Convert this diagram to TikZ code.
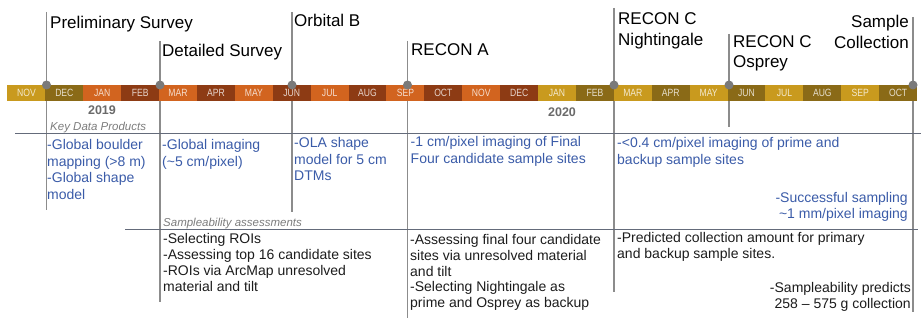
\documentclass[tikz,border=0pt]{standalone}
\usepackage{fontspec}
\setmainfont{Liberation Sans}
\newfontfamily\monthfont[FakeStretch=0.82]{Liberation Sans}

% month band colours
\definecolor{mgold}{HTML}{C99A1E}
\definecolor{molive}{HTML}{8A6A17}
\definecolor{morange}{HTML}{D2641F}
\definecolor{mbrown}{HTML}{8D3B14}
% other colours
\definecolor{guidegray}{HTML}{8C8C8C}
\definecolor{rulegray}{HTML}{646B7A}
\definecolor{dotgray}{HTML}{7A7A7A}
\definecolor{yeargray}{HTML}{6A6A6A}
\definecolor{labelgray}{HTML}{7C7C7C}
\definecolor{keyblue}{HTML}{3A5BA8}
\definecolor{bodyblack}{HTML}{1C1C1C}

% stacked lines whose baseline is the first line's baseline
\newcommand\leftlines[2]{\vtop{\baselineskip=#1\lineskiplimit=-30pt\halign{##\hfil\cr#2\crcr}}}
\newcommand\rightlines[2]{\vtop{\baselineskip=#1\lineskiplimit=-30pt\halign{\hfil##\cr#2\crcr}}}

\begin{document}
\begin{tikzpicture}[x=1pt,y=-1pt,
  guide/.style={draw=guidegray, line width=1.1pt},
  rule/.style={draw=rulegray, line width=1pt},
  monthcell/.style={rectangle, inner sep=0, minimum width=38pt, minimum height=16pt,
    font=\monthfont\fontsize{10.5}{10.5}\selectfont, text=white, text opacity=0.78},
  milestone/.style={font=\fontsize{17}{20}\selectfont, inner sep=0, text=black},
  yearlabel/.style={font=\bfseries\fontsize{12.5}{14}\selectfont, text=yeargray, inner sep=0, anchor=base},
  rowlabel/.style={font=\itshape\fontsize{11.5}{13}\selectfont, text=labelgray, inner sep=0, anchor=base west},
  keytext/.style={font=\fontsize{14}{16.5}\selectfont, text=keyblue, inner sep=0},
  sampletext/.style={font=\fontsize{14}{16}\selectfont, text=bodyblack, inner sep=0},
  dot/.style={circle, fill=dotgray, inner sep=0, minimum size=9pt}
]
\useasboundingbox (0,0) rectangle (921,320);

% milestone guide lines (drawn below the month band)
\foreach \n/\x/\t/\b in {1/46.5/12/210, 2/160/41/302, 3/292/12/212, 4/407.5/41/318,
                          5/614/8/292, 6/729/34/127, 7/913/17/312} {
  \coordinate (gt\n) at (\x,\t);
  \coordinate (gb\n) at (\x,\b);
  \coordinate (ms\n) at (\x,85);
  \draw[guide] (gt\n) -- (gb\n);
}

% month band, Nov 2018 to Oct 2020
\foreach \m/\c [count=\i from 0] in {NOV/mgold, DEC/molive, JAN/morange, FEB/mbrown,
    MAR/morange, APR/mbrown, MAY/morange, JUN/mbrown, JUL/morange, AUG/mbrown,
    SEP/morange, OCT/mbrown, NOV/morange, DEC/mbrown, JAN/mgold, FEB/molive,
    MAR/mgold, APR/molive, MAY/mgold, JUN/molive, JUL/mgold, AUG/molive,
    SEP/mgold, OCT/molive} {
  \node[monthcell, fill=\c] (month\i) at ({7.5+37.9*\i+18.95},93) {\m};
}

% milestone dots on the band
\foreach \n in {1,...,7} { \node[dot] (dot\n) at (ms\n) {}; }

% row separators
\coordinate (keyL) at (15,134);   \coordinate (keyR) at (921,134);
\coordinate (smpL) at (125,230);  \coordinate (smpR) at (918,230);
\draw[rule] (keyL) -- (keyR);
\draw[rule] (smpL) -- (smpR);

% milestone titles
\node[milestone, anchor=base west] (tPrelim) at (50,29) {Preliminary Survey};
\node[milestone, anchor=base west] (tDetail) at (162,57) {Detailed Survey};
\node[milestone, anchor=base west] (tOrbB) at (294,27) {Orbital B};
\node[milestone, anchor=base west] (tRecA) at (411,56) {RECON A};
\node[milestone, anchor=base west] (tRecCN) at (618,25) {\leftlines{21pt}{RECON C\cr Nightingale}};
\node[milestone, anchor=base west] (tRecCO) at (733,48) {\leftlines{20pt}{RECON C\cr Osprey}};
\node[milestone, anchor=base east] (tSample) at (909,28) {\rightlines{21pt}{Sample\cr Collection}};

% years
\node[yearlabel] (y2019) at (102,115) {2019};
\node[yearlabel] (y2020) at (562,117) {2020};

% row headings
\node[rowlabel] (hKey) at (50,131) {Key Data Products};
\node[rowlabel] (hSmp) at (163,227) {Sampleability assessments};

% key data products
\node[keytext, anchor=base west] (k1) at (47,150)
  {\leftlines{16.5pt}{-Global boulder\cr mapping (>8 m)\cr -Global shape\cr model}};
\node[keytext, anchor=base west] (k2) at (162,150)
  {\leftlines{16.5pt}{-Global imaging\cr (\textasciitilde5 cm/pixel)}};
\node[keytext, anchor=base west] (k3) at (294,148)
  {\leftlines{16.5pt}{-OLA shape\cr model for 5 cm\cr DTMs}};
\node[keytext, anchor=base west] (k4) at (410.5,147)
  {\leftlines{16.5pt}{-1 cm/pixel imaging of Final\cr Four candidate sample sites}};
\node[keytext, anchor=base west] (k5) at (617,148)
  {\leftlines{16.5pt}{-<0.4 cm/pixel imaging of prime and\cr backup sample sites}};
\node[keytext, anchor=base east] (k6) at (908,203)
  {\rightlines{15.5pt}{-Successful sampling\cr \textasciitilde1 mm/pixel imaging}};

% sampleability assessments
\node[sampletext, anchor=base west] (s2) at (163,244)
  {\leftlines{16pt}{-Selecting ROIs\cr -Assessing top 16 candidate sites\cr
    -ROIs via ArcMap unresolved\cr material and tilt}};
\node[sampletext, anchor=base west] (s4) at (410,245)
  {\leftlines{15.6pt}{-Assessing final four candidate\cr sites via unresolved material\cr
    and tilt\cr -Selecting Nightingale as\cr prime and Osprey as backup}};
\node[sampletext, anchor=base west] (s5) at (617,243)
  {\leftlines{16pt}{-Predicted collection amount for primary\cr and backup sample sites.}};
\node[sampletext, anchor=base east] (s6) at (911,293)
  {\rightlines{15.5pt}{-Sampleability predicts\cr 258 – 575 g collection}};
\end{tikzpicture}
\end{document}
